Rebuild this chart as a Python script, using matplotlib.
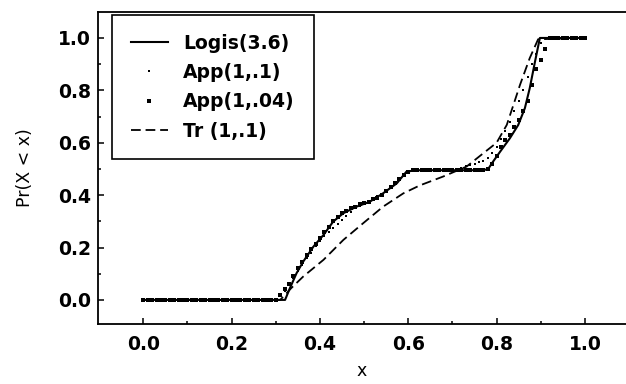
import matplotlib
matplotlib.use("Agg")
import matplotlib.pyplot as plt
import numpy as np

plt.rcParams['lines.scale_dashes'] = False

# Logis(3.6) - solid line
logis_x = [0.0, 0.321, 0.332, 0.347, 0.362, 0.385, 0.408, 0.430, 0.453, 0.483, 0.513,
           0.543, 0.574, 0.596, 0.62, 0.77, 0.781, 0.792, 0.808, 0.830, 0.849, 0.864,
           0.875, 0.887, 0.898, 1.0]
logis_y = [0.0, 0.0, 0.045, 0.102, 0.146, 0.203, 0.248, 0.299, 0.331, 0.356, 0.375,
           0.407, 0.445, 0.490, 0.495, 0.495, 0.500, 0.528, 0.566, 0.617, 0.668, 0.732,
           0.808, 0.910, 1.0, 1.0]

# Tr(1,.1) - dashed line
tr_x = [0.0, 0.31, 0.335, 0.362, 0.408, 0.453, 0.498, 0.543, 0.589, 0.626, 0.679,
        0.732, 0.77, 0.80, 0.823, 0.838, 0.853, 0.875, 0.894, 1.0]
tr_y = [0.0, 0.0, 0.045, 0.089, 0.153, 0.229, 0.293, 0.356, 0.407, 0.437, 0.471,
        0.509, 0.560, 0.600, 0.668, 0.744, 0.821, 0.923, 0.995, 1.0]

# App(1,.1) and App(1,.04) - dotted series on x = 0.00 ... 1.00 (step .01)
app_x = [round(i * 0.01, 2) for i in range(101)]
app1_y = ([0.0] * 31 +
          [0.015, 0.035, 0.06, 0.085, 0.11, 0.135, 0.16, 0.18, 0.205, 0.225,   # .31-.40
           0.245, 0.26, 0.275, 0.29, 0.305, 0.32, 0.335, 0.35, 0.36, 0.37,      # .41-.50
           0.378, 0.386, 0.395, 0.405, 0.42, 0.435, 0.45, 0.465, 0.48, 0.49,    # .51-.60
           0.495, 0.495, 0.495, 0.495, 0.495, 0.495, 0.495, 0.495, 0.495, 0.495,  # .61-.70
           0.50, 0.505, 0.51, 0.515, 0.52, 0.525, 0.53, 0.54, 0.56, 0.585,      # .71-.80
           0.615, 0.645, 0.68, 0.72, 0.76, 0.80, 0.85, 0.90, 0.94, 0.98] +      # .81-.90
          [1.0] * 10)
app04_y = ([0.0] * 31 +
           [0.02, 0.04, 0.06, 0.09, 0.12, 0.145, 0.17, 0.195, 0.215, 0.235,    # .31-.40
            0.26, 0.28, 0.30, 0.315, 0.33, 0.34, 0.35, 0.355, 0.365, 0.37,     # .41-.50
            0.375, 0.385, 0.39, 0.40, 0.415, 0.43, 0.445, 0.46, 0.475, 0.49,   # .51-.60
            0.495, 0.495, 0.495, 0.495, 0.495, 0.495, 0.495, 0.495, 0.495, 0.495,  # .61-.70
            0.495, 0.495, 0.495, 0.495, 0.495, 0.495, 0.495, 0.50, 0.52, 0.55,  # .71-.80
            0.585, 0.61, 0.63, 0.66, 0.685, 0.72, 0.76, 0.82, 0.88, 0.915,     # .81-.90
            0.958] +
           [1.0] * 9)

labels = ["Logis(3.6)", "App(1,.1)", "App(1,.04)", "Tr (1,.1)"]
xticks = [0.0, 0.2, 0.4, 0.6, 0.8, 1.0]
yticks = [0.0, 0.2, 0.4, 0.6, 0.8, 1.0]

fig = plt.figure(figsize=(6.26, 3.84), dpi=100)
ax = fig.add_axes([98 / 626, 60 / 384, 1 - 98 / 626, (324 - 11.5) / 384])

ax.plot(logis_x, logis_y, color='black', lw=1.5, label=labels[0])
ax.plot(app_x, app1_y, ls='none', marker='s', ms=1.9, mew=0, color='black', label=labels[1])
ax.plot(app_x, app04_y, ls='none', marker='s', ms=3.0, mew=0, color='black', label=labels[2])
ax.plot(tr_x, tr_y, color='black', lw=1.3, dashes=(7, 3.5), label=labels[3])

ax.set_xlim(-0.1026, 1.093)
ax.set_ylim(-0.092, 1.101)
ax.set_xticks(xticks)
ax.set_yticks(yticks)
ax.set_xticks([0.1, 0.3, 0.5, 0.7, 0.9], minor=True)
ax.set_yticks([0.1, 0.3, 0.5, 0.7, 0.9], minor=True)
ax.set_xticklabels([f"{v:.1f}" for v in xticks])
ax.set_yticklabels([f"{v:.1f}" for v in yticks])
ax.tick_params(which='both', direction='in', top=False, right=False, width=1.1)
ax.tick_params(which='major', length=4, labelsize=13.5, pad=8)
ax.tick_params(axis='y', which='major', pad=5)
ax.tick_params(which='minor', length=2)
for lab in ax.get_xticklabels() + ax.get_yticklabels():
    lab.set_fontweight('bold')

for s in ['left', 'bottom', 'top']:
    ax.spines[s].set_linewidth(1.3)
ax.spines['right'].set_visible(False)

ax.set_xlabel("x", fontsize=12.5, labelpad=6)
ax.set_ylabel("Pr(X < x)", fontsize=12.5, labelpad=17)

leg = ax.legend(loc='upper left', bbox_to_anchor=(0.0265, 0.989), frameon=True,
                fancybox=False, edgecolor='black', framealpha=1, numpoints=1,
                prop={'weight': 'bold', 'size': 13.5}, handlelength=2.0,
                handletextpad=0.8, labelspacing=0.55, borderpad=1.0,
                borderaxespad=0)
leg.get_frame().set_linewidth(1.2)

fig.savefig("out.png", dpi=100)
